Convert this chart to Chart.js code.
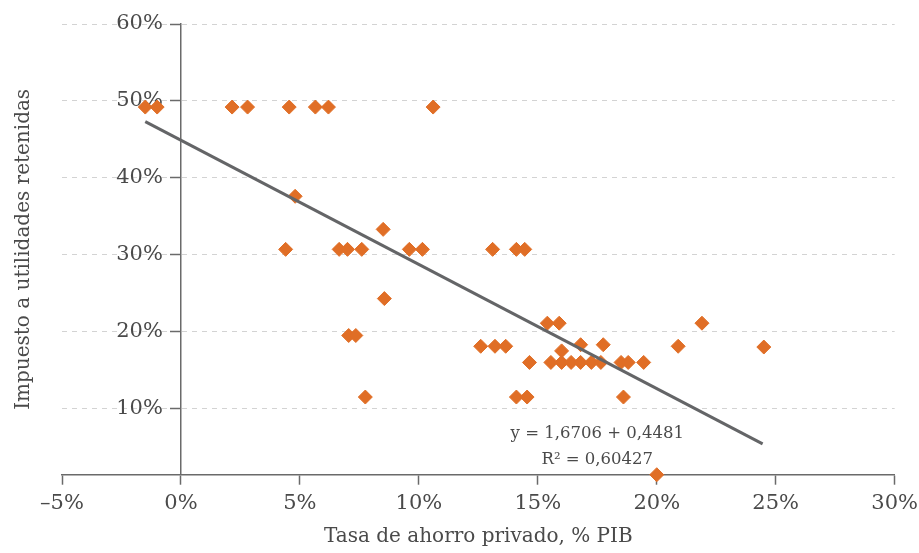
<!DOCTYPE html>
<html>
<head>
<meta charset="utf-8">
<script src="https://cdn.jsdelivr.net/npm/chart.js@4"></script>
<style>
  html, body { margin: 0; padding: 0; background: #fff; }
  #wrap { width: 919px; height: 553px; }
</style>
</head>
<body>
<div id="wrap"><canvas id="chart"></canvas></div>
<script>
// Data (percent)
const savingsRate = [
  -1.5, -1.0, 2.15, 2.8, 4.55, 5.65, 6.2, 10.6,
  4.8, 8.5,
  4.4, 6.65, 7.0, 7.6, 9.6, 10.15, 13.1, 14.1, 14.45,
  8.55, 7.05, 7.35,
  15.4, 15.9, 21.9,
  12.6, 13.2, 13.65, 16.8, 17.75, 20.9, 24.5,
  16.0,
  14.65, 15.55, 16.0, 16.4, 16.8, 17.25, 17.65, 18.5, 18.8, 19.45,
  7.75, 14.1, 14.55, 18.6,
  20.0
];
const retainedTax = [
  49.2, 49.2, 49.2, 49.2, 49.2, 49.2, 49.2, 49.2,
  37.6, 33.3,
  30.7, 30.7, 30.7, 30.7, 30.7, 30.7, 30.7, 30.7, 30.7,
  24.3, 19.5, 19.5,
  21.1, 21.1, 21.1,
  18.1, 18.1, 18.1, 18.3, 18.3, 18.1, 18.0,
  17.5,
  16.0, 16.0, 16.0, 16.0, 16.0, 16.0, 16.0, 16.0, 16.0, 16.0,
  11.5, 11.5, 11.5, 11.5,
  1.4
];
const trendX = [-1.5, 24.45];
const trendY = [47.3, 5.4];
const xTicks = [-5, 0, 5, 10, 15, 20, 25, 30];
const yTicks = [10, 20, 30, 40, 50, 60];
const equationLines = ["y = 1,6706 + 0,4481", "R\u00b2 = 0,60427"];

const FONT = "DejaVu Serif";
const TEXT = "#4a4a4a";
const AXIS = "#6a6a6a";

function pct(v) {
  return (v < 0 ? "\u2013" + Math.abs(v) : v) + "%";
}

// Y title sits at the far left, not beside the axis at x = 0
const yTitlePlugin = {
  id: "yTitle",
  afterDraw(chart) {
    const ctx = chart.ctx;
    const a = chart.chartArea;
    ctx.save();
    ctx.translate(24, (a.top + a.bottom) / 2);
    ctx.rotate(-Math.PI / 2);
    ctx.textAlign = "center";
    ctx.textBaseline = "middle";
    ctx.font = "20px '" + FONT + "'";
    ctx.fillStyle = TEXT;
    ctx.fillText("Impuesto a utilidades retenidas", 0, 0);
    ctx.restore();
  }
};

// Regression equation label
const equationPlugin = {
  id: "equation",
  afterDraw(chart) {
    const ctx = chart.ctx;
    const cx = chart.scales.x.getPixelForValue(17.5);
    const y0 = chart.scales.y.getPixelForValue(6.2);
    ctx.save();
    ctx.textAlign = "center";
    ctx.textBaseline = "alphabetic";
    ctx.font = "16.5px '" + FONT + "'";
    ctx.fillStyle = TEXT;
    equationLines.forEach((t, i) => ctx.fillText(t, cx, y0 + i * 26));
    ctx.restore();
  }
};

const ctx = document.getElementById("chart").getContext("2d");

new Chart(ctx, {
  data: {
    datasets: [
      {
        type: "line",
        data: trendX.map((x, i) => ({ x, y: trendY[i] })),
        borderColor: "#646567",
        borderWidth: 3,
        pointRadius: 0,
        order: 0
      },
      {
        type: "scatter",
        data: savingsRate.map((x, i) => ({ x, y: retainedTax[i] })),
        pointStyle: "rectRot",
        pointRadius: 7,
        borderWidth: 1,
        backgroundColor: "#e06e26",
        borderColor: "#e06e26",
        clip: false,
        order: 1
      }
    ]
  },
  options: {
    responsive: true,
    maintainAspectRatio: false,
    animation: false,
    layout: { padding: { left: 62, right: 20, top: 24, bottom: 4 } },
    plugins: { legend: { display: false }, tooltip: { enabled: false } },
    scales: {
      x: {
        type: "linear",
        min: -5,
        max: 30,
        afterBuildTicks: (s) => { s.ticks = xTicks.map((v) => ({ value: v })); },
        grid: { drawOnChartArea: false, drawTicks: true, tickLength: 10, tickColor: AXIS, tickWidth: 1.5 },
        border: { color: AXIS, width: 1.5 },
        ticks: { padding: 1, color: TEXT, font: { family: FONT, size: 21, lineHeight: 1.68 }, callback: pct },
        title: {
          display: true,
          text: "Tasa de ahorro privado, % PIB",
          color: TEXT,
          font: { family: FONT, size: 20 },
          padding: { top: 3, bottom: 0 }
        }
      },
      // axis line, tick marks and dashed grid, crossing at x = 0
      y: {
        type: "linear",
        min: 1.4,
        max: 60,
        position: { x: 0 },
        afterBuildTicks: (s) => { s.ticks = yTicks.map((v) => ({ value: v })); },
        grid: { color: "#d3d3d3", lineWidth: 1, drawTicks: true, tickLength: 10, tickColor: AXIS, tickWidth: 1.5 },
        border: { display: true, color: AXIS, width: 1.5, dash: [5, 5] },
        ticks: { display: false }
      },
      // tick labels only, set a little left of the axis line
      yLabels: {
        type: "linear",
        axis: "y",
        min: 1.4,
        max: 60,
        position: { x: -0.76 },
        afterBuildTicks: (s) => { s.ticks = yTicks.map((v) => ({ value: v })); },
        grid: { display: false },
        border: { display: false },
        ticks: { color: TEXT, font: { family: FONT, size: 21 }, callback: pct }
      }
    }
  },
  plugins: [yTitlePlugin, equationPlugin]
});
</script>
</body>
</html>
